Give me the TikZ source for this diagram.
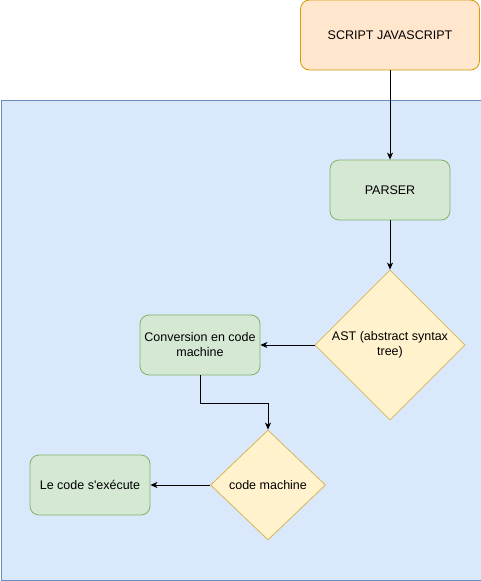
\documentclass[tikz,border=0pt]{standalone}
\usepackage{fontspec}
\setmainfont[Ligatures=TeXOff]{Liberation Sans}
\usetikzlibrary{shapes.geometric,arrows.meta}
\definecolor{bluefill}{HTML}{DAE8FC}
\definecolor{bluedraw}{HTML}{6C8EBF}
\definecolor{orangefill}{HTML}{FFE6CC}
\definecolor{orangedraw}{HTML}{D79B00}
\definecolor{greenfill}{HTML}{D5E8D4}
\definecolor{greendraw}{HTML}{82B366}
\definecolor{yellowfill}{HTML}{FFF2CC}
\definecolor{yellowdraw}{HTML}{D6B656}
\tikzset{
  px/.style={x=1pt,y=-1pt},
  lbl/.style={font=\fontsize{12.5}{15}\selectfont, text=black, align=center},
  greenbox/.style={lbl, rounded corners=9pt, fill=greenfill, draw=greendraw, line width=0.8pt, minimum width=120pt, minimum height=60pt, inner sep=0pt},
  dia/.style={lbl, diamond, fill=yellowfill, draw=yellowdraw, line width=0.8pt, inner sep=0pt},
  conn/.style={draw=black, line width=0.9pt, -{Stealth[length=7pt,width=6pt,inset=2pt]}},
}
\begin{document}
\begin{tikzpicture}[px]
\useasboundingbox (0,0) rectangle (481,581);
\node[draw=bluedraw, fill=bluefill, line width=0.8pt, minimum width=480pt, minimum height=480pt, inner sep=0pt, anchor=north west] (area) at (0.5,100) {};
\node[lbl, rounded corners=9pt, fill=orangefill, draw=orangedraw, line width=0.8pt, minimum width=179pt, minimum height=70pt, inner sep=0pt] (script) at (390,35) {SCRIPT JAVASCRIPT};
\node[greenbox] (parser) at (390,190) {PARSER};
\node[dia, minimum width=150pt, minimum height=150pt, aspect=1] (ast) at (390,345) {AST (abstract syntax\\tree)};
\node[greenbox] (conv) at (200,345) {Conversion en code\\machine};
\node[dia, minimum width=115pt, minimum height=110pt, aspect=1.05] (cm) at (268,485) {code machine};
\node[greenbox] (exec) at (90,485) {Le code s'exécute};
\coordinate (b1) at (200,403);
\coordinate (b2) at (268,403);
\draw[conn] (script.south) -- (parser.north);
\draw[conn] (parser.south) -- (ast.north);
\draw[conn] (ast.west) -- (conv.east);
\draw[conn] (conv.south) -- (b1) -- (b2) -- (cm.north);
\draw[conn] (cm.west) -- (exec.east);
\end{tikzpicture}
\end{document}
